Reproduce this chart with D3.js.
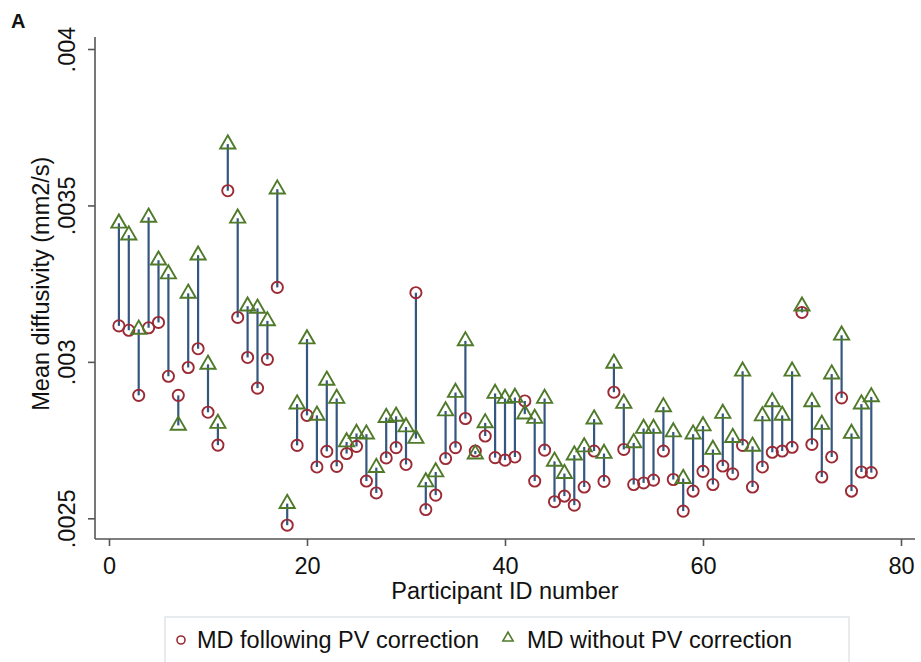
<!DOCTYPE html>
<html>
<head>
<meta charset="utf-8">
<script src="https://cdn.jsdelivr.net/npm/d3@7"></script>
<style>
  body { margin: 0; background: #fff; }
  svg { display: block; font-family: "Liberation Sans", Arial, Helvetica, sans-serif; }
</style>
</head>
<body>
<svg id="chart" width="921" height="662"></svg>
<script>
// Participant IDs 1..77
const participantIds = d3.range(1, 78);

// MD following PV correction (circles)
const mdWithPV = [
  0.003115, 0.003101, 0.002893, 0.003109, 0.003126, 0.002954, 0.002893, 0.002982, 0.003042, 0.002839,
  0.002734, 0.003547, 0.003142, 0.003014, 0.002916, 0.003008, 0.003238, 0.002478, 0.002733, 0.002829,
  0.002664, 0.002714, 0.002666, 0.002707, 0.002730, 0.002619, 0.002581, 0.002693, 0.002726, 0.002672,
  0.003221, 0.002528, 0.002574, 0.002691, 0.002726, 0.002819, 0.002715, 0.002763, 0.002694, 0.002686,
  0.002696, 0.002875, 0.002619, 0.002718, 0.002553, 0.002571, 0.002542, 0.002600, 0.002715, 0.002618,
  0.002903, 0.002720, 0.002608, 0.002613, 0.002622, 0.002715, 0.002624, 0.002523, 0.002587, 0.002650,
  0.002608, 0.002667, 0.002642, 0.002733, 0.002600, 0.002664, 0.002711, 0.002715, 0.002727, 0.003158,
  0.002736, 0.002632, 0.002696, 0.002885, 0.002587, 0.002648, 0.002646
];

// MD without PV correction (triangles)
const mdWithoutPV = [
  0.003443, 0.003405, 0.003104, 0.003462, 0.003325, 0.003281, 0.002797, 0.003219, 0.003341, 0.002992,
  0.002803, 0.003696, 0.003459, 0.003178, 0.003171, 0.003131, 0.003552, 0.002547, 0.002865, 0.003073,
  0.002829, 0.002941, 0.002883, 0.002744, 0.002771, 0.002769, 0.002662, 0.002822, 0.002826, 0.002792,
  0.002755, 0.002616, 0.002648, 0.002843, 0.002902, 0.003067, 0.002705, 0.002805, 0.002899, 0.002883,
  0.002886, 0.002833, 0.002819, 0.002883, 0.002682, 0.002643, 0.002702, 0.002728, 0.002817, 0.002707,
  0.002995, 0.002867, 0.002741, 0.002787, 0.002787, 0.002856, 0.002776, 0.002627, 0.002769, 0.002795,
  0.002720, 0.002835, 0.002758, 0.002970, 0.002730, 0.002827, 0.002872, 0.002829, 0.002970, 0.003178,
  0.002872, 0.002800, 0.002961, 0.003085, 0.002771, 0.002865, 0.002888
];

const xTicks = [0, 20, 40, 60, 80];
const yTicks = [0.0025, 0.003, 0.0035, 0.004];
const yTickLabels = [".0025", ".003", ".0035", ".004"];
const seriesNames = ["MD following PV correction", "MD without PV correction"];

const colCircle = "#9b2a35";
const colTri = "#4f7a2a";
const colStem = "#1f4471";
const axisCol = "#555";
const FS = 23.5;

const svg = d3.select("#chart");

const x = d3.scaleLinear().domain([0, 80]).range([109, 901]);
const y = d3.scaleLinear().domain([0.0025, 0.004]).range([518.3, 49]);

const data = participantIds.map((id, i) => ({ id, a: mdWithPV[i], b: mdWithoutPV[i] }));

// Panel label
svg.append("text").attr("x", 11).attr("y", 28).attr("font-size", 20)
  .attr("font-weight", "bold").attr("fill", "#111").text("A");

// Axes lines
const plotLeft = 95, plotRight = 915, plotTop = 37, plotBottom = 539;
svg.append("line").attr("x1", plotLeft).attr("x2", plotLeft).attr("y1", plotTop).attr("y2", plotBottom)
  .attr("stroke", axisCol).attr("stroke-width", 1.6);
svg.append("line").attr("x1", plotLeft).attr("x2", plotRight).attr("y1", plotBottom).attr("y2", plotBottom)
  .attr("stroke", axisCol).attr("stroke-width", 1.6);

// Y axis
const yAxis = d3.axisLeft(y).tickValues(yTicks).tickSize(7)
  .tickFormat((d, i) => yTickLabels[i]);
const gy = svg.append("g").attr("transform", `translate(${plotLeft},0)`).call(yAxis);
gy.select(".domain").remove();
gy.selectAll(".tick line").attr("stroke", axisCol).attr("stroke-width", 1.6);
gy.selectAll(".tick text")
  .attr("font-size", FS).attr("fill", "#111")
  .attr("x", null).attr("dy", null)
  .attr("text-anchor", "middle")
  .attr("transform", "translate(-20,0) rotate(-90)");

// X axis
const xAxis = d3.axisBottom(x).tickValues(xTicks).tickSize(7).tickFormat(d3.format("d"));
const gx = svg.append("g").attr("transform", `translate(0,${plotBottom})`).call(xAxis);
gx.select(".domain").remove();
gx.selectAll(".tick line").attr("stroke", axisCol).attr("stroke-width", 1.6);
gx.selectAll(".tick text").attr("font-size", FS).attr("fill", "#111")
  .attr("y", 35).attr("dy", null);

// Axis titles
svg.append("text").attr("x", (x(0) + x(80)) / 2).attr("y", 599).attr("text-anchor", "middle")
  .attr("font-size", FS).attr("fill", "#111").text("Participant ID number");
svg.append("text").attr("transform", `translate(49,${(y(0.0025) + y(0.004)) / 2}) rotate(-90)`)
  .attr("text-anchor", "middle").attr("font-size", FS).attr("fill", "#111")
  .text("Mean diffusivity (mm2/s)");

// Stems
svg.append("g").selectAll("line").data(data).join("line")
  .attr("x1", d => x(d.id)).attr("x2", d => x(d.id))
  .attr("y1", d => y(d.a)).attr("y2", d => y(d.b))
  .attr("stroke", colStem).attr("stroke-width", 2.2).attr("stroke-opacity", 0.9);

// Circles
svg.append("g").selectAll("circle").data(data).join("circle")
  .attr("cx", d => x(d.id)).attr("cy", d => y(d.a)).attr("r", 5.6)
  .attr("fill", "none").attr("stroke", colCircle).attr("stroke-width", 1.9);

// Triangles
const tri = d3.symbol().type(d3.symbolTriangle).size(100);
svg.append("g").selectAll("path").data(data).join("path")
  .attr("transform", d => `translate(${x(d.id)},${y(d.b)})`)
  .attr("d", tri)
  .attr("fill", "none").attr("stroke", colTri).attr("stroke-width", 1.9);

// Legend
const lg = svg.append("g");
lg.append("rect").attr("x", 165).attr("y", 617).attr("width", 684).attr("height", 60)
  .attr("fill", "#fff").attr("stroke", "#dfe5e8").attr("stroke-width", 1.5);
lg.append("circle").attr("cx", 181).attr("cy", 640).attr("r", 4)
  .attr("fill", "none").attr("stroke", colCircle).attr("stroke-width", 1.6);
lg.append("text").attr("x", 197).attr("y", 648).attr("font-size", FS).attr("fill", "#111").text(seriesNames[0]);
lg.append("path").attr("transform", "translate(508,638)")
  .attr("d", d3.symbol().type(d3.symbolTriangle).size(45))
  .attr("fill", "none").attr("stroke", colTri).attr("stroke-width", 1.6);
lg.append("text").attr("x", 527).attr("y", 648).attr("font-size", FS).attr("fill", "#111").text(seriesNames[1]);
</script>
</body>
</html>
